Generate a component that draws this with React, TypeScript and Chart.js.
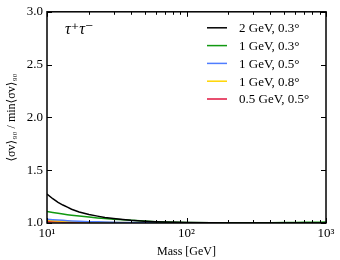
import React, { useEffect, useRef } from "react";
import { Chart, registerables } from "chart.js";

Chart.register(...registerables);

const masses = [10, 11, 12, 13, 14, 15, 17, 20, 23, 26, 30, 35, 40, 50, 60, 70, 85, 100, 150, 200, 300, 400, 500, 600, 700, 800, 900, 1000];

const black2GeV03 = [1.275, 1.23, 1.195, 1.17, 1.15, 1.13, 1.105, 1.08, 1.065, 1.053, 1.043, 1.033, 1.025, 1.017, 1.012, 1.009, 1.006, 1.004, 1.002, 1.001, 1.0, 1.0, 1.0, 1.0, 1.0, 1.0, 1.0, 1.0];
const green1GeV03 = [1.11, 1.1, 1.092, 1.085, 1.079, 1.074, 1.066, 1.056, 1.048, 1.042, 1.036, 1.03, 1.025, 1.018, 1.013, 1.01, 1.007, 1.005, 1.003, 1.002, 1.002, 1.003, 1.004, 1.005, 1.006, 1.007, 1.008, 1.009];
const blue1GeV05 = [1.035, 1.031, 1.028, 1.025, 1.022, 1.02, 1.017, 1.013, 1.011, 1.009, 1.007, 1.005, 1.004, 1.003, 1.002, 1.002, 1.001, 1.001, 1.0, 1.0, 1.0, 1.0, 1.0, 1.0, 1.0, 1.0, 1.0, 1.0];
const yellow1GeV08 = [1.025, 1.022, 1.02, 1.018, 1.016, 1.014, 1.012, 1.009, 1.007, 1.006, 1.005, 1.004, 1.003, 1.002, 1.001, 1.001, 1.0, 1.0, 1.0, 1.0, 1.0, 1.0, 1.0, 1.0, 1.0, 1.0, 1.0, 1.0];
const red05GeV05 = [1.013, 1.012, 1.011, 1.01, 1.009, 1.008, 1.007, 1.005, 1.004, 1.003, 1.003, 1.002, 1.002, 1.001, 1.001, 1.0, 1.0, 1.0, 1.0, 1.0, 1.0, 1.0, 1.0, 1.0, 1.0, 1.0, 1.0, 1.0];

const seriesLabels = ["2 GeV, 0.3°", "1 GeV, 0.3°", "1 GeV, 0.5°", "1 GeV, 0.8°", "0.5 GeV, 0.5°"];
const seriesColors = ["#000000", "#119911", "#4f7dff", "#ffd500", "#e0153f"];
const seriesValues = [black2GeV03, green1GeV03, blue1GeV05, yellow1GeV08, red05GeV05];

const xMajorTicks = [10, 100, 1000];
const xMajorLabels = ["10¹", "10²", "10³"];
const xMinorTicks = [20, 30, 40, 50, 60, 70, 80, 90, 200, 300, 400, 500, 600, 700, 800, 900];
const yTicks = [1.0, 1.5, 2.0, 2.5, 3.0];

const yTitle = "⟨σv⟩₉₀ / min⟨σv⟩₉₀";
const xTitle = "Mass [GeV]";
const channelLabel = "τ⁺τ⁻";

const FONT = "'Liberation Serif', 'DejaVu Serif', serif";

const framePlugin = {
  id: "frameTicksLegend",
  afterDatasetsDraw(chart: any) {
    const { ctx, chartArea: a, scales } = chart;
    const xs = scales.x;
    const ys = scales.y;
    ctx.save();
    ctx.strokeStyle = "#000";
    ctx.lineWidth = 1;
    const major = 5;
    const minor = 3;
    ctx.beginPath();
    for (const v of xMajorTicks) {
      const px = Math.round(xs.getPixelForValue(v)) + 0.5;
      ctx.moveTo(px, a.bottom);
      ctx.lineTo(px, a.bottom - major);
      ctx.moveTo(px, a.top);
      ctx.lineTo(px, a.top + major);
    }
    for (const v of xMinorTicks) {
      const px = Math.round(xs.getPixelForValue(v)) + 0.5;
      ctx.moveTo(px, a.bottom);
      ctx.lineTo(px, a.bottom - minor);
      ctx.moveTo(px, a.top);
      ctx.lineTo(px, a.top + minor);
    }
    for (const v of yTicks) {
      const py = Math.round(ys.getPixelForValue(v)) + 0.5;
      ctx.moveTo(a.left, py);
      ctx.lineTo(a.left + major, py);
      ctx.moveTo(a.right, py);
      ctx.lineTo(a.right - major, py);
    }
    ctx.stroke();
    ctx.lineWidth = 1.5;
    ctx.strokeRect(a.left, a.top, a.right - a.left, a.bottom - a.top);

    ctx.font = `13px ${FONT}`;
    ctx.textBaseline = "middle";
    ctx.textAlign = "left";
    chart.data.datasets.forEach((ds: any, i: number) => {
      const y = a.top + 16 + i * 17.8;
      ctx.strokeStyle = ds.borderColor;
      ctx.lineWidth = 1.5;
      ctx.beginPath();
      ctx.moveTo(207, y);
      ctx.lineTo(227, y);
      ctx.stroke();
      ctx.fillStyle = "#000";
      ctx.fillText(ds.label, 239, y + 1);
    });

    ctx.font = `italic 16px ${FONT}`;
    ctx.fillStyle = "#000";
    ctx.fillText(channelLabel, a.left + 18, a.top + 18);
    ctx.restore();
  },
};

export default function App() {
  const ref = useRef<HTMLCanvasElement | null>(null);
  useEffect(() => {
    if (!ref.current) return;
    const chart = new Chart(ref.current, {
      type: "line",
      data: {
        datasets: seriesValues.map((vals, i) => ({
          label: seriesLabels[i],
          data: masses.map((m, j) => ({ x: m, y: vals[j] })),
          borderColor: seriesColors[i],
          backgroundColor: seriesColors[i],
          borderWidth: 1.5,
          pointRadius: 0,
          tension: 0,
          fill: false,
        })),
      },
      options: {
        animation: false,
        responsive: false,
        devicePixelRatio: 1,
        layout: { padding: { top: 7, right: 14, left: 0, bottom: 0 } },
        plugins: { legend: { display: false }, tooltip: { enabled: false } },
        scales: {
          x: {
            type: "logarithmic",
            min: 10,
            max: 1000,
            afterBuildTicks: (s: any) => {
              s.ticks = xMajorTicks.map((v) => ({ value: v }));
            },
            afterFit: (s: any) => {
              s.height = 37;
            },
            ticks: {
              autoSkip: false,
              maxRotation: 0,
              padding: 3,
              color: "#000",
              font: { family: FONT, size: 13 },
              callback: (v: any) => {
                const k = xMajorTicks.indexOf(Number(v));
                return k >= 0 ? xMajorLabels[k] : "";
              },
            },
            grid: { display: true, drawOnChartArea: false, drawTicks: false },
            border: { display: false },
            title: {
              display: true,
              text: xTitle,
              color: "#000",
              font: { family: FONT, size: 12 },
              padding: { top: 0, bottom: 1 },
            },
          },
          y: {
            type: "linear",
            min: 1.0,
            max: 3.0,
            afterBuildTicks: (s: any) => {
              s.ticks = yTicks.map((v) => ({ value: v }));
            },
            afterFit: (s: any) => {
              s.width = 47;
            },
            ticks: {
              padding: 4,
              color: "#000",
              font: { family: FONT, size: 13 },
              callback: (v: any) => Number(v).toFixed(1),
            },
            grid: { display: true, drawOnChartArea: false, drawTicks: false },
            border: { display: false },
            title: {
              display: true,
              text: yTitle,
              color: "#000",
              font: { family: FONT, size: 12 },
              padding: { top: 5, bottom: 0 },
            },
          },
        },
      },
      plugins: [framePlugin],
    } as any);
    return () => chart.destroy();
  }, []);
  return (
    <div style={{ position: "fixed", left: 0, top: 0, width: 340, height: 260, background: "#fff" }}>
      <canvas ref={ref} width={340} height={260} />
    </div>
  );
}
